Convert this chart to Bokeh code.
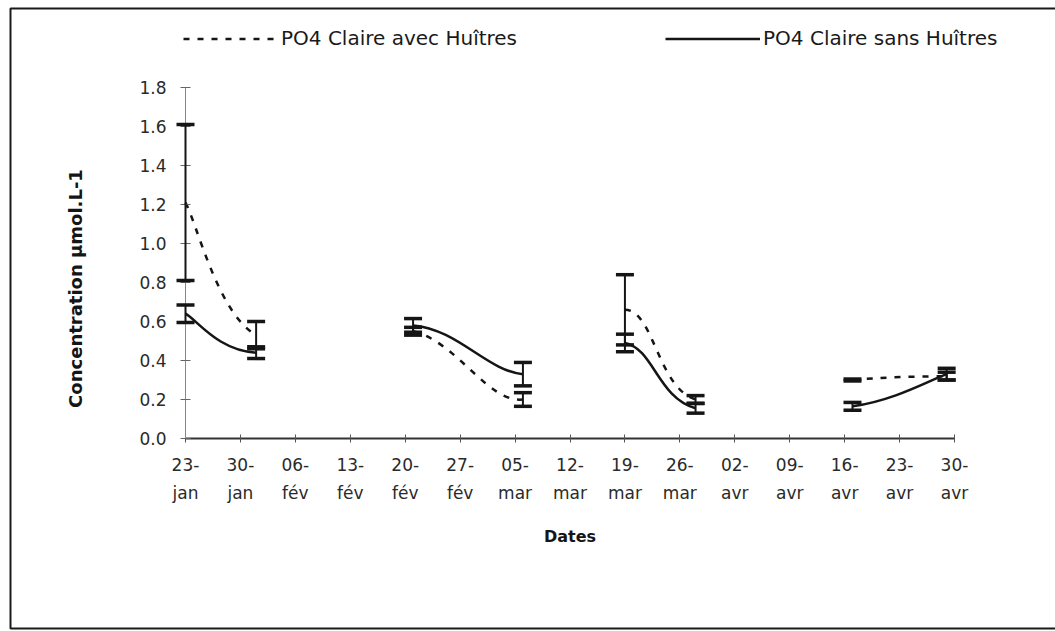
import numpy as np
import pandas as pd
from bokeh.plotting import figure
from bokeh.models import (ColumnDataSource, Whisker, TeeHead, FixedTicker, Legend,
                          LegendItem, Label, NumeralTickFormatter, Range1d, BoxAnnotation)
from bokeh.embed import file_html
from bokeh.resources import INLINE

# Sampling dates and PO4 concentrations (µmol/L) in the two ponds
sample_dates = ["2000-01-23", "2000-02-01", "2000-02-21", "2000-03-06",
                "2000-03-19", "2000-03-28", "2000-04-17", "2000-04-29"]
campaign = [1, 1, 2, 2, 3, 3, 4, 4]

po4_avec = [1.21, 0.53, 0.55, 0.20, 0.66, 0.20, 0.30, 0.32]
po4_avec_sd = [0.40, 0.07, 0.02, 0.035, 0.18, 0.02, 0.005, 0.02]
po4_sans = [0.64, 0.44, 0.58, 0.33, 0.49, 0.155, 0.165, 0.33]
po4_sans_sd = [0.045, 0.03, 0.035, 0.06, 0.045, 0.025, 0.02, 0.03]

tick_labels = ["23-\njan", "30-\njan", "06-\nfév", "13-\nfév", "20-\nfév",
               "27-\nfév", "05-\nmar", "12-\nmar", "19-\nmar", "26-\nmar",
               "02-\navr", "09-\navr", "16-\navr", "23-\navr", "30-\navr"]
y_ticks = [0.0, 0.2, 0.4, 0.6, 0.8, 1.0, 1.2, 1.4, 1.6, 1.8]

FONT = "DejaVu Sans"
INK = "#151515"
W, H = 1055, 631

start = pd.Timestamp(sample_dates[0])
days = [(pd.Timestamp(d) - start).days for d in sample_dates]
tick_days = [7 * i for i in range(len(tick_labels))]

# Page geometry: the plot frame covers the whole canvas, the axes are
# pinned at the origin so that the labels, legend and border fit around.
AX_LEFT, AX_RIGHT, AX_BOTTOM = 185, 954, 438
PX_DAY = (AX_RIGHT - AX_LEFT) / tick_days[-1]
PX_UNIT = (AX_BOTTOM - 87) / y_ticks[-1]


def px_x(px):
    return (px - AX_LEFT) / PX_DAY


def px_y(py):
    return (AX_BOTTOM - py) / PX_UNIT


def smooth_segments(x, y, groups):
    """Catmull-Rom style Bezier control points, keeping only the
    segments joining two samples of the same campaign."""
    n = len(x)
    out = dict(x0=[], y0=[], x1=[], y1=[], cx0=[], cy0=[], cx1=[], cy1=[])
    for i in range(n - 1):
        if groups[i] != groups[i + 1]:
            continue
        ip = max(i - 1, 0)
        inx = min(i + 2, n - 1)
        out["x0"].append(x[i]); out["y0"].append(y[i])
        out["x1"].append(x[i + 1]); out["y1"].append(y[i + 1])
        out["cx0"].append(x[i] + (x[i + 1] - x[ip]) / 6)
        out["cy0"].append(y[i] + (y[i + 1] - y[ip]) / 6)
        out["cx1"].append(x[i + 1] - (x[inx] - x[i]) / 6)
        out["cy1"].append(y[i + 1] - (y[inx] - y[i]) / 6)
    return ColumnDataSource(out)


p = figure(width=W, height=H, output_backend="svg", toolbar_location=None,
           x_range=Range1d(px_x(0), px_x(W)), y_range=Range1d(px_y(H), px_y(0)),
           min_border=0, min_border_left=0, min_border_right=0,
           min_border_top=0, min_border_bottom=0)
p.title.visible = False
p.outline_line_color = None
p.xgrid.visible = False
p.ygrid.visible = False
p.background_fill_color = "white"
p.border_fill_color = "white"

# Smoothed lines
avec_src = smooth_segments(days, po4_avec, campaign)
sans_src = smooth_segments(days, po4_sans, campaign)
r_avec = p.bezier(x0="x0", y0="y0", x1="x1", y1="y1", cx0="cx0", cy0="cy0",
                  cx1="cx1", cy1="cy1", source=avec_src, line_color=INK,
                  line_width=2.5, line_dash="6 8")
r_sans = p.bezier(x0="x0", y0="y0", x1="x1", y1="y1", cx0="cx0", cy0="cy0",
                  cx1="cx1", cy1="cy1", source=sans_src, line_color=INK,
                  line_width=2.5)

# Error bars (± standard deviation)
err = ColumnDataSource(dict(
    x=days,
    avec_lo=[v - e for v, e in zip(po4_avec, po4_avec_sd)],
    avec_hi=[v + e for v, e in zip(po4_avec, po4_avec_sd)],
    sans_lo=[v - e for v, e in zip(po4_sans, po4_sans_sd)],
    sans_hi=[v + e for v, e in zip(po4_sans, po4_sans_sd)],
))
for lo, hi in (("avec_lo", "avec_hi"), ("sans_lo", "sans_hi")):
    w = Whisker(source=err, base="x", lower=lo, upper=hi,
                line_color=INK, line_width=2, level="overlay",
                upper_head=TeeHead(size=18, line_width=3.5, line_color=INK),
                lower_head=TeeHead(size=18, line_width=3.5, line_color=INK))
    p.add_layout(w)

# Axes
p.xaxis.fixed_location = 0
p.xaxis.bounds = (tick_days[0], tick_days[-1])
p.xaxis.ticker = FixedTicker(ticks=tick_days)
p.xaxis.major_label_overrides = {d: lab for d, lab in zip(tick_days, tick_labels)}
p.xaxis.minor_tick_line_color = None
p.xaxis.axis_line_color = "#333333"
p.xaxis.axis_line_width = 2
p.xaxis.major_tick_line_color = "#555555"
p.xaxis.major_tick_in = 4
p.xaxis.major_tick_out = 4
p.xaxis.major_label_text_font = FONT
p.xaxis.major_label_text_font_size = "17px"
p.xaxis.major_label_text_color = "#2a2a2a"
p.xaxis.major_label_text_line_height = 1.42
p.xaxis.major_label_standoff = 12
p.xaxis.axis_label = "Dates"
p.xaxis.axis_label_text_font = FONT
p.xaxis.axis_label_text_font_size = "16px"
p.xaxis.axis_label_text_font_style = "bold"
p.xaxis.axis_label_text_color = INK
p.xaxis.axis_label_standoff = 21

p.yaxis.fixed_location = 0
p.yaxis.bounds = (y_ticks[0], y_ticks[-1])
p.yaxis.ticker = FixedTicker(ticks=y_ticks)
p.yaxis.formatter = NumeralTickFormatter(format="0.0")
p.yaxis.minor_tick_line_color = None
p.yaxis.axis_line_color = "#888888"
p.yaxis.axis_line_width = 1
p.yaxis.major_tick_line_color = "#666666"
p.yaxis.major_tick_in = 5
p.yaxis.major_tick_out = 5
p.yaxis.major_label_text_font = FONT
p.yaxis.major_label_text_font_size = "17px"
p.yaxis.major_label_text_color = "#2a2a2a"
p.yaxis.major_label_standoff = 14

# Y axis title
p.add_layout(Label(x=px_x(75), y=px_y(288), text="Concentration µmol.L-1",
                   angle=np.pi / 2, text_align="center", text_baseline="middle",
                   text_font=FONT, text_font_size="18px", text_font_style="bold",
                   text_color=INK))

# Legend above the plot area
legend = Legend(items=[LegendItem(label="PO4 Claire avec Huîtres", renderers=[r_avec]),
                       LegendItem(label="PO4 Claire sans Huîtres", renderers=[r_sans])],
                orientation="horizontal", location=(183, H - 50),
                glyph_width=95, glyph_height=23, label_standoff=3, spacing=148,
                padding=0, margin=0, border_line_color=None,
                background_fill_alpha=0, label_text_font=FONT,
                label_text_font_size="20px", label_text_color="#1a1a1a")
p.add_layout(legend, "center")

# Outer frame of the chart
p.add_layout(BoxAnnotation(left=px_x(10), right=px_x(W + 10), top=px_y(8),
                           bottom=px_y(628), fill_alpha=0, line_alpha=1,
                           line_color="#1a1a1a", line_width=2))

open("out.html", "w").write(file_html(p, INLINE))
